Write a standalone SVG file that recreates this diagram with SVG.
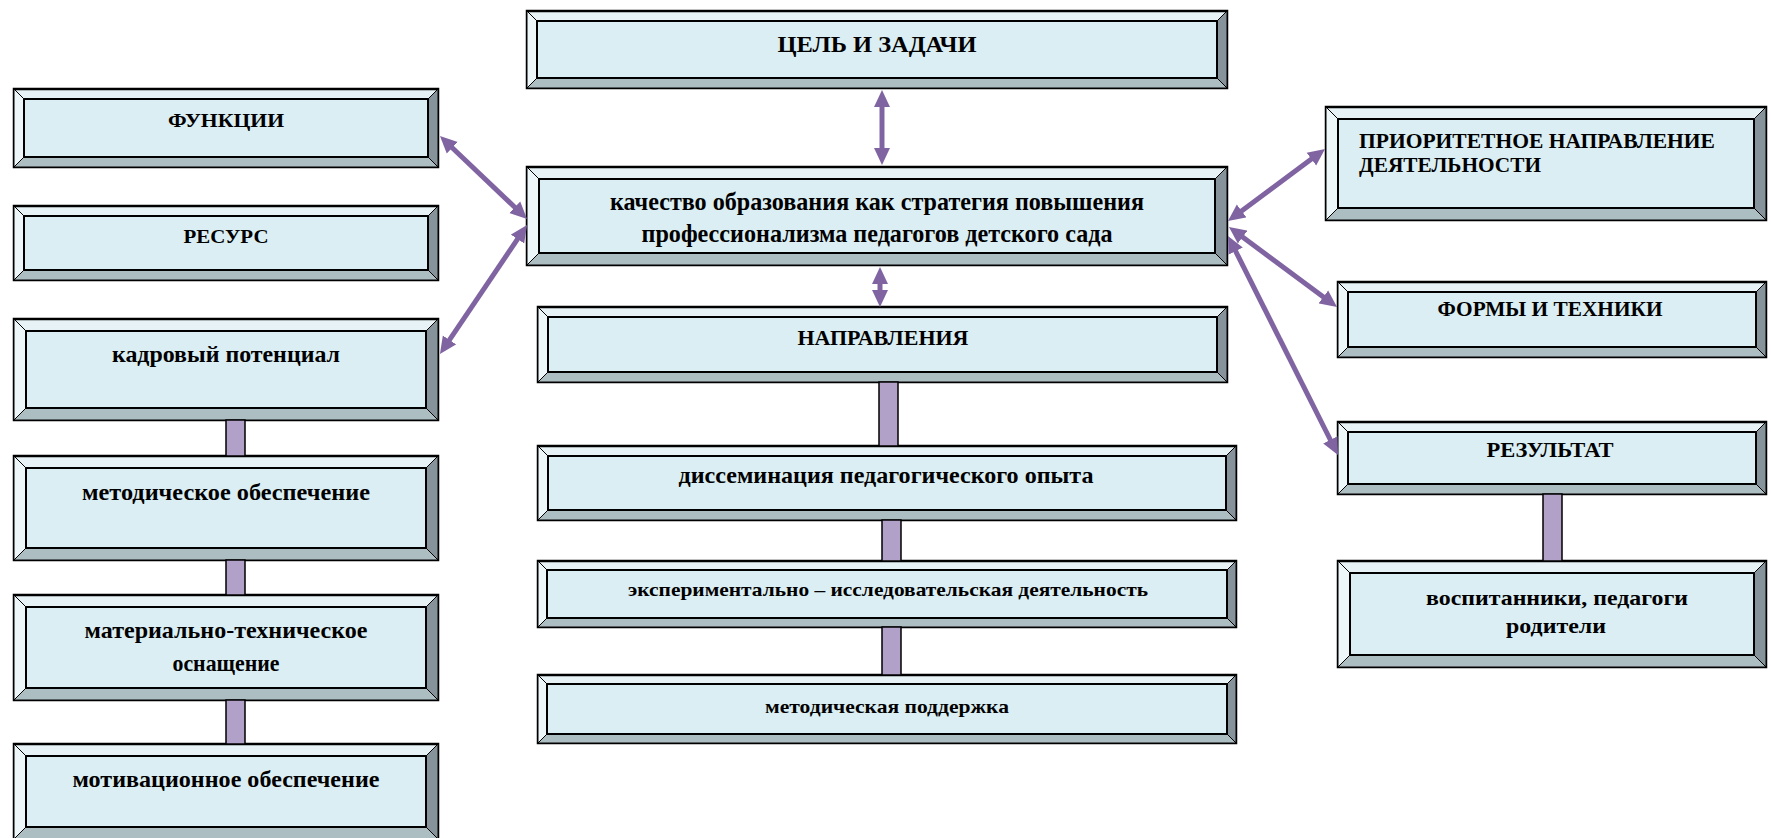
<svg xmlns="http://www.w3.org/2000/svg" width="1771" height="838" viewBox="0 0 1771 838">
<style>
.o{fill:#E6F2F6;stroke:#000;stroke-width:2.5}
.t{fill:#E6F2F6;stroke:#000;stroke-width:1}
.l{fill:#EDF6F9;stroke:#000;stroke-width:1}
.r{fill:#86939A;stroke:#000;stroke-width:1}
.b{fill:#ADBEC3;stroke:#000;stroke-width:1}
.i{fill:#DAEEF3;stroke:#000;stroke-width:2}
text{font-family:"Liberation Serif","Times New Roman",serif;font-weight:bold;fill:#000;text-anchor:middle}
.bar{fill:#B1A0C7;stroke:#000;stroke-width:1.5}
.arr{stroke:#8064A2;stroke-width:5;fill:none;marker-start:url(#ah);marker-end:url(#ah)}
</style>
<defs>
<marker id="ah" markerUnits="userSpaceOnUse" markerWidth="19" markerHeight="17" refX="3" refY="8.5" orient="auto-start-reverse">
<path d="M0,0.5 L17,8.5 L0,16.5 Z" fill="#8064A2"/>
</marker>
</defs>
<rect width="1771" height="838" fill="#fff"/>

<g id="n-goal">
<rect class="o" x="527" y="11" width="700" height="77"/>
<polygon class="l" points="527,11 537,21 537,78 527,88"/>
<polygon class="r" points="1227,11 1227,88 1217,78 1217,21"/>
<polygon class="b" points="527,88 1227,88 1217,78 537,78"/>
<rect class="i" x="537" y="21" width="680" height="57"/>
<text x="877" y="52" font-size="24" textLength="199" lengthAdjust="spacingAndGlyphs">ЦЕЛЬ И ЗАДАЧИ</text>
</g>

<g id="n-func">
<rect class="o" x="14" y="89" width="424" height="78"/>
<polygon class="l" points="14,89 24,99 24,157 14,167"/>
<polygon class="r" points="438,89 438,167 428,157 428,99"/>
<polygon class="b" points="14,167 438,167 428,157 24,157"/>
<rect class="i" x="24" y="99" width="404" height="58"/>
<text x="226" y="127" font-size="19" textLength="116" lengthAdjust="spacingAndGlyphs">ФУНКЦИИ</text>
</g>

<g id="n-res">
<rect class="o" x="14" y="206" width="424" height="74"/>
<polygon class="l" points="14,206 24,216 24,270 14,280"/>
<polygon class="r" points="438,206 438,280 428,270 428,216"/>
<polygon class="b" points="14,280 438,280 428,270 24,270"/>
<rect class="i" x="24" y="216" width="404" height="54"/>
<text x="226" y="243" font-size="19" textLength="85" lengthAdjust="spacingAndGlyphs">РЕСУРС</text>
</g>

<g id="n-staff">
<rect class="o" x="14" y="319" width="424" height="101"/>
<polygon class="l" points="14,319 26,331 26,408 14,420"/>
<polygon class="r" points="438,319 438,420 426,408 426,331"/>
<polygon class="b" points="14,420 438,420 426,408 26,408"/>
<rect class="i" x="26" y="331" width="400" height="77"/>
<text x="226" y="362" font-size="23" textLength="228" lengthAdjust="spacingAndGlyphs">кадровый потенциал</text>
</g>

<g id="n-method">
<rect class="o" x="14" y="456" width="424" height="104"/>
<polygon class="l" points="14,456 26,468 26,548 14,560"/>
<polygon class="r" points="438,456 438,560 426,548 426,468"/>
<polygon class="b" points="14,560 438,560 426,548 26,548"/>
<rect class="i" x="26" y="468" width="400" height="80"/>
<text x="226" y="500" font-size="23" textLength="288" lengthAdjust="spacingAndGlyphs">методическое обеспечение</text>
</g>

<g id="n-material">
<rect class="o" x="14" y="595" width="424" height="105"/>
<polygon class="l" points="14,595 26,607 26,688 14,700"/>
<polygon class="r" points="438,595 438,700 426,688 426,607"/>
<polygon class="b" points="14,700 438,700 426,688 26,688"/>
<rect class="i" x="26" y="607" width="400" height="81"/>
<text x="226" y="638" font-size="23" textLength="283" lengthAdjust="spacingAndGlyphs">материально-техническое</text>
<text x="226" y="671" font-size="23" textLength="107" lengthAdjust="spacingAndGlyphs">оснащение</text>
</g>

<g id="n-motiv">
<rect class="o" x="14" y="744" width="424" height="95"/>
<polygon class="l" points="14,744 26,756 26,827 14,839"/>
<polygon class="r" points="438,744 438,839 426,827 426,756"/>
<polygon class="b" points="14,839 438,839 426,827 26,827"/>
<rect class="i" x="26" y="756" width="400" height="71"/>
<text x="226" y="787" font-size="23" textLength="307" lengthAdjust="spacingAndGlyphs">мотивационное обеспечение</text>
</g>

<g id="n-main">
<rect class="o" x="527" y="167" width="700" height="98"/>
<polygon class="l" points="527,167 539,179 539,253 527,265"/>
<polygon class="r" points="1227,167 1227,265 1215,253 1215,179"/>
<polygon class="b" points="527,265 1227,265 1215,253 539,253"/>
<rect class="i" x="539" y="179" width="676" height="74"/>
<text x="877" y="210" font-size="25" textLength="534" lengthAdjust="spacingAndGlyphs">качество образования как стратегия повышения</text>
<text x="877" y="242" font-size="25" textLength="471" lengthAdjust="spacingAndGlyphs">профессионализма педагогов детского сада</text>
</g>

<g id="n-dir">
<rect class="o" x="538" y="307" width="689" height="75"/>
<polygon class="l" points="538,307 548,317 548,372 538,382"/>
<polygon class="r" points="1227,307 1227,382 1217,372 1217,317"/>
<polygon class="b" points="538,382 1227,382 1217,372 548,372"/>
<rect class="i" x="548" y="317" width="669" height="55"/>
<text x="883" y="345" font-size="22" textLength="171" lengthAdjust="spacingAndGlyphs">НАПРАВЛЕНИЯ</text>
</g>

<g id="n-dissem">
<rect class="o" x="538" y="446" width="698" height="74"/>
<polygon class="l" points="538,446 548,456 548,510 538,520"/>
<polygon class="r" points="1236,446 1236,520 1226,510 1226,456"/>
<polygon class="b" points="538,520 1236,520 1226,510 548,510"/>
<rect class="i" x="548" y="456" width="678" height="54"/>
<text x="886" y="483" font-size="23" textLength="415" lengthAdjust="spacingAndGlyphs">диссеминация педагогического опыта</text>
</g>

<g id="n-exp">
<rect class="o" x="538" y="561" width="698" height="66"/>
<polygon class="l" points="538,561 547,570 547,618 538,627"/>
<polygon class="r" points="1236,561 1236,627 1227,618 1227,570"/>
<polygon class="b" points="538,627 1236,627 1227,618 547,618"/>
<rect class="i" x="547" y="570" width="680" height="48"/>
<text x="888" y="596" font-size="19" textLength="520" lengthAdjust="spacingAndGlyphs">экспериментально – исследовательская деятельность</text>
</g>

<g id="n-support">
<rect class="o" x="538" y="675" width="698" height="68"/>
<polygon class="l" points="538,675 547,684 547,734 538,743"/>
<polygon class="r" points="1236,675 1236,743 1227,734 1227,684"/>
<polygon class="b" points="538,743 1236,743 1227,734 547,734"/>
<rect class="i" x="547" y="684" width="680" height="50"/>
<text x="887" y="713" font-size="19" textLength="244" lengthAdjust="spacingAndGlyphs">методическая поддержка</text>
</g>

<g id="n-priority">
<rect class="o" x="1326" y="107" width="440" height="113"/>
<polygon class="l" points="1326,107 1338,119 1338,208 1326,220"/>
<polygon class="r" points="1766,107 1766,220 1754,208 1754,119"/>
<polygon class="b" points="1326,220 1766,220 1754,208 1338,208"/>
<rect class="i" x="1338" y="119" width="416" height="89"/>
<text x="1359" y="148" font-size="20" textLength="356" lengthAdjust="spacingAndGlyphs" style="text-anchor:start">ПРИОРИТЕТНОЕ НАПРАВЛЕНИЕ</text>
<text x="1359" y="172" font-size="20" textLength="182" lengthAdjust="spacingAndGlyphs" style="text-anchor:start">ДЕЯТЕЛЬНОСТИ</text>
</g>

<g id="n-forms">
<rect class="o" x="1338" y="282" width="428" height="75"/>
<polygon class="l" points="1338,282 1348,292 1348,347 1338,357"/>
<polygon class="r" points="1766,282 1766,357 1756,347 1756,292"/>
<polygon class="b" points="1338,357 1766,357 1756,347 1348,347"/>
<rect class="i" x="1348" y="292" width="408" height="55"/>
<text x="1550" y="316" font-size="20" textLength="225" lengthAdjust="spacingAndGlyphs">ФОРМЫ И ТЕХНИКИ</text>
</g>

<g id="n-result">
<rect class="o" x="1338" y="422" width="428" height="72"/>
<polygon class="l" points="1338,422 1348,432 1348,484 1338,494"/>
<polygon class="r" points="1766,422 1766,494 1756,484 1756,432"/>
<polygon class="b" points="1338,494 1766,494 1756,484 1348,484"/>
<rect class="i" x="1348" y="432" width="408" height="52"/>
<text x="1550" y="457" font-size="20" textLength="127" lengthAdjust="spacingAndGlyphs">РЕЗУЛЬТАТ</text>
</g>

<g id="n-people">
<rect class="o" x="1338" y="561" width="428" height="106"/>
<polygon class="l" points="1338,561 1350,573 1350,655 1338,667"/>
<polygon class="r" points="1766,561 1766,667 1754,655 1754,573"/>
<polygon class="b" points="1338,667 1766,667 1754,655 1350,655"/>
<rect class="i" x="1350" y="573" width="404" height="82"/>
<text x="1557" y="605" font-size="22" textLength="262" lengthAdjust="spacingAndGlyphs">воспитанники, педагоги</text>
<text x="1556" y="633" font-size="22" textLength="100" lengthAdjust="spacingAndGlyphs">родители</text>
</g>

<g id="connectors">
<rect class="bar" x="226" y="420" width="19" height="36"/>
<rect class="bar" x="226" y="560" width="19" height="35"/>
<rect class="bar" x="226" y="700" width="19" height="44"/>
<rect class="bar" x="879" y="382" width="19" height="64"/>
<rect class="bar" x="882" y="520" width="19" height="41"/>
<rect class="bar" x="882" y="627" width="19" height="48"/>
<rect class="bar" x="1543" y="494" width="19" height="67"/>
<line class="arr" x1="882" y1="104" x2="882" y2="151"/>
<line class="arr" x1="880" y1="281" x2="880" y2="293"/>
<line class="arr" x1="450.1" y1="145.7" x2="516.9" y2="209.3"/>
<line class="arr" x1="447.8" y1="342.4" x2="519.2" y2="236.6"/>
<line class="arr" x1="1239.2" y1="212.7" x2="1313.8" y2="157.3"/>
<line class="arr" x1="1240.2" y1="235.3" x2="1325.8" y2="298.7"/>
<line class="arr" x1="1234.3" y1="248.5" x2="1331.7" y2="442.5"/>
</g>
</svg>
